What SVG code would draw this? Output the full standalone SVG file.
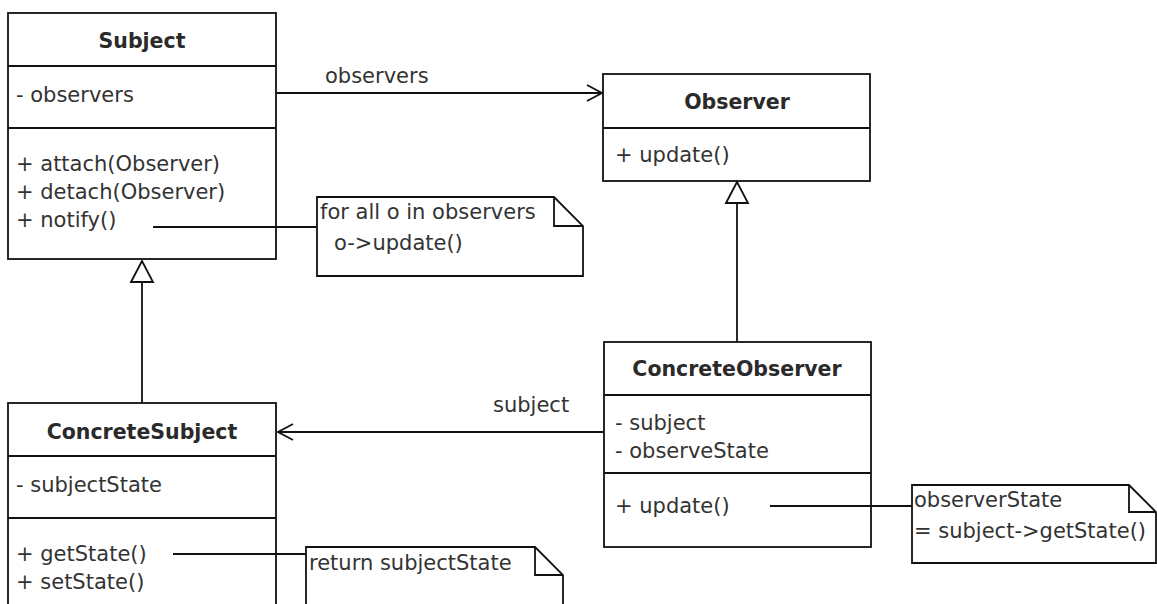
<svg xmlns="http://www.w3.org/2000/svg" width="1157" height="604" viewBox="0 0 1157 604">
<defs>
<style>
.box{fill:#fff;stroke:#111;stroke-width:1.8}
.div{stroke:#111;stroke-width:1.8}
.conn{stroke:#111;stroke-width:1.8;fill:none}
.t{font-family:"DejaVu Sans",sans-serif;font-size:21px;fill:#333}
.h{font-family:"DejaVu Sans",sans-serif;font-size:20.5px;font-weight:bold;fill:#2a2a2a;text-anchor:middle}
</style>
<marker id="open" markerUnits="userSpaceOnUse" markerWidth="18" markerHeight="18" refX="15" refY="8" orient="auto" overflow="visible">
<path d="M0,0 L15,8 L0,16" fill="none" stroke="#111" stroke-width="1.8"/>
</marker>
<marker id="tri" markerUnits="userSpaceOnUse" markerWidth="24" markerHeight="24" refX="21" refY="11" orient="auto" overflow="visible">
<path d="M0,0 L21,11 L0,22 Z" fill="#fff" stroke="#111" stroke-width="1.8"/>
</marker>
</defs>
<rect width="1157" height="604" fill="#fff"/>
<g id="subject">
<rect class="box" x="8" y="13" width="268" height="246"/>
<line class="div" x1="8" y1="66" x2="276" y2="66"/>
<line class="div" x1="8" y1="128" x2="276" y2="128"/>
<text class="h" x="142" y="48">Subject</text>
<text class="t" x="16" y="102">- observers</text>
<text class="t" x="16" y="171">+ attach(Observer)</text>
<text class="t" x="16" y="199">+ detach(Observer)</text>
<text class="t" x="16" y="227">+ notify()</text>
</g>
<g id="observer">
<rect class="box" x="603" y="74" width="267" height="107"/>
<line class="div" x1="603" y1="128" x2="870" y2="128"/>
<text class="h" x="737" y="109">Observer</text>
<text class="t" x="615" y="162">+ update()</text>
</g>
<g id="concreteObserver">
<rect class="box" x="604" y="342" width="267" height="205"/>
<line class="div" x1="604" y1="395" x2="871" y2="395"/>
<line class="div" x1="604" y1="473" x2="871" y2="473"/>
<text class="h" x="737" y="376">ConcreteObserver</text>
<text class="t" x="615" y="430">- subject</text>
<text class="t" x="615" y="458">- observeState</text>
<text class="t" x="615" y="513">+ update()</text>
</g>
<g id="concreteSubject">
<rect class="box" x="8" y="403" width="268" height="220"/>
<line class="div" x1="8" y1="456" x2="276" y2="456"/>
<line class="div" x1="8" y1="518" x2="276" y2="518"/>
<text class="h" x="142" y="439">ConcreteSubject</text>
<text class="t" x="16" y="492">- subjectState</text>
<text class="t" x="16" y="561">+ getState()</text>
<text class="t" x="16" y="589">+ setState()</text>
</g>
<g id="noteNotify">
<path class="box" d="M317,197 H554 L583,226 V276 H317 Z"/>
<path class="conn" d="M554,197 V226 H583"/>
<text class="t" x="320" y="219">for all o in observers</text>
<text class="t" x="334" y="250">o-&gt;update()</text>
</g>
<g id="noteGetState">
<path class="box" d="M306,547 H535 L563,575 V620 H306 Z"/>
<path class="conn" d="M535,547 V575 H563"/>
<text class="t" x="309" y="570">return subjectState</text>
</g>
<g id="noteUpdate">
<path class="box" d="M912,485 H1129 L1156,512 V563 H912 Z"/>
<path class="conn" d="M1129,485 V512 H1156"/>
<text class="t" x="914" y="507">observerState</text>
<text class="t" x="914" y="538">= subject-&gt;getState()</text>
</g>
<g id="connectors">
<line class="conn" x1="276" y1="93" x2="602" y2="93" marker-end="url(#open)"/>
<line class="conn" x1="142" y1="403" x2="142" y2="261" marker-end="url(#tri)"/>
<line class="conn" x1="737" y1="342" x2="737" y2="182" marker-end="url(#tri)"/>
<line class="conn" x1="604" y1="432" x2="278" y2="432" marker-end="url(#open)"/>
<line class="conn" x1="153" y1="227" x2="317" y2="227"/>
<line class="conn" x1="173" y1="554" x2="306" y2="554"/>
<line class="conn" x1="770" y1="506" x2="912" y2="506"/>
<text class="t" x="325" y="83">observers</text>
<text class="t" x="493" y="412">subject</text>
</g>
</svg>
